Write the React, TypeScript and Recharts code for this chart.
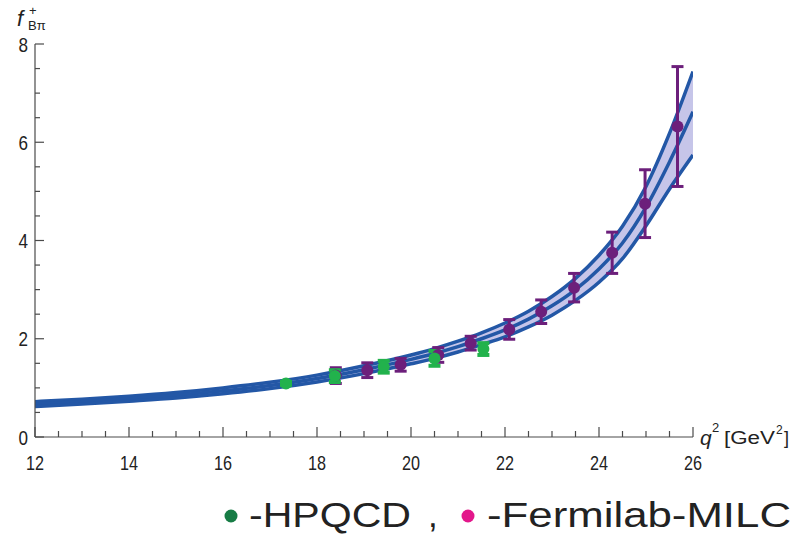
import React from 'react';
import { ComposedChart, Line, Area, Scatter, XAxis, YAxis, ErrorBar } from 'recharts';

// fit band
const q2Grid = [12, 13, 14, 15, 16, 17, 18, 19, 20, 20.5, 21, 21.5, 22, 22.5, 23, 23.5, 24, 24.5, 25, 25.5, 26];
const central = [0.67, 0.72, 0.78, 0.85, 0.94, 1.05, 1.19, 1.37, 1.58, 1.7, 1.84, 2.0, 2.18, 2.4, 2.67, 3.0, 3.42, 3.95, 4.68, 5.6, 6.62];
const upper = [0.72, 0.77, 0.83, 0.905, 1.0, 1.115, 1.26, 1.45, 1.67, 1.8, 1.95, 2.12, 2.32, 2.56, 2.86, 3.23, 3.7, 4.29, 5.1, 6.18, 7.44];
const lower = [0.62, 0.67, 0.73, 0.795, 0.88, 0.985, 1.12, 1.29, 1.49, 1.6, 1.73, 1.88, 2.04, 2.24, 2.48, 2.78, 3.15, 3.63, 4.3, 5.05, 5.74];

// lattice data
const hpqcdQ2 = [17.34, 18.38, 19.42, 20.5, 21.54];
const hpqcdF = [1.09, 1.24, 1.43, 1.6, 1.79];
const hpqcdErr = [0.03, 0.12, 0.12, 0.15, 0.12];

const fnalQ2 = [18.4, 19.07, 19.78, 20.58, 21.27, 22.09, 22.77, 23.47, 24.28, 24.98, 25.67];
const fnalF = [1.25, 1.36, 1.47, 1.67, 1.91, 2.19, 2.55, 3.04, 3.75, 4.75, 6.32];
const fnalErr = [0.16, 0.15, 0.13, 0.15, 0.14, 0.2, 0.24, 0.29, 0.42, 0.69, 1.22];

// ticks
const xTicks = [12, 12.5, 13, 13.5, 14, 14.5, 15, 15.5, 16, 16.5, 17, 17.5, 18, 18.5, 19, 19.5, 20, 20.5, 21, 21.5, 22, 22.5, 23, 23.5, 24, 24.5, 25, 25.5, 26];
const xLabels = [12, 14, 16, 18, 20, 22, 24, 26];
const yTicks = [0, 0.5, 1, 1.5, 2, 2.5, 3, 3.5, 4, 4.5, 5, 5.5, 6, 6.5, 7, 7.5, 8];
const yLabels = [0, 2, 4, 6, 8];

const legendNames = ['-HPQCD', '-Fermilab-MILC'];

const bandData = q2Grid.map((q, i) => ({ q2: q, c: central[i], hi: upper[i], lo: lower[i], range: [lower[i], upper[i]] }));
const hpqcdData = hpqcdQ2.map((q, i) => ({ q2: q, f: hpqcdF[i], err: hpqcdErr[i] }));
const fnalData = fnalQ2.map((q, i) => ({ q2: q, f: fnalF[i], err: fnalErr[i] }));

const BLUE = '#2357a6';
const BAND = '#c6c5e9';
const PURPLE = '#6c1f7b';
const GREEN = '#22b24c';
const AXIS = '#4a4a4a';
const FONT = '"Liberation Sans", Arial, sans-serif';

const XTick = (props: any) => {
  const { x, y, payload } = props;
  const v = payload.value;
  const major = xLabels.includes(v);
  return (
    <g>
      <line x1={x} x2={x} y1={y} y2={y - (major ? 10 : 6)} stroke={AXIS} strokeWidth={1.2} />
      {major && (
        <text x={x} y={y + 33} textAnchor="middle" fontSize={21} fontFamily={FONT} fill="#222"
          textLength={String(v).length * 9} lengthAdjust="spacingAndGlyphs">{v}</text>
      )}
    </g>
  );
};

const YTick = (props: any) => {
  const { x, y, payload } = props;
  const v = payload.value;
  const major = yLabels.includes(v);
  return (
    <g>
      <line x1={x} x2={x + (major ? 9 : 5)} y1={y} y2={y} stroke={AXIS} strokeWidth={1.2} />
      {major && (
        <text x={x - 7} y={y + 7.5} textAnchor="end" fontSize={21} fontFamily={FONT} fill="#222"
          textLength={9.5} lengthAdjust="spacingAndGlyphs">{v}</text>
      )}
    </g>
  );
};

const Dot = (color: string) => (props: any) => {
  const { cx, cy } = props;
  if (cx == null || cy == null) return null;
  return <circle cx={cx} cy={cy} r={6} fill={color} />;
};

export default function App() {
  return (
    <div style={{ position: 'absolute', left: 0, top: 0, width: 802, height: 535, background: '#fff' }}>
      <ComposedChart width={802} height={535} data={bandData} margin={{ top: 44, right: 109, bottom: 97, left: 34 }}>
        <XAxis dataKey="q2" type="number" domain={[12, 26]} ticks={xTicks} interval={0} height={1}
          tickSize={0} tickMargin={0} tickLine={false} tick={<XTick />} axisLine={{ stroke: AXIS, strokeWidth: 1.2 }} allowDataOverflow />
        <YAxis type="number" domain={[0, 8]} ticks={yTicks} interval={0} width={1}
          tickSize={0} tickMargin={0} tickLine={false} tick={<YTick />} axisLine={{ stroke: AXIS, strokeWidth: 1.2 }} allowDataOverflow />
        <Area dataKey="range" type="monotone" fill={BAND} fillOpacity={1} stroke="none" isAnimationActive={false} />
        <Line dataKey="hi" type="monotone" stroke={BLUE} strokeWidth={3.5} dot={false} isAnimationActive={false} />
        <Line dataKey="c" type="monotone" stroke={BLUE} strokeWidth={3.5} dot={false} isAnimationActive={false} />
        <Line dataKey="lo" type="monotone" stroke={BLUE} strokeWidth={3.5} dot={false} isAnimationActive={false} />
        <Scatter data={fnalData} dataKey="f" shape={Dot(PURPLE)} isAnimationActive={false}>
          <ErrorBar dataKey="err" direction="y" width={6} strokeWidth={3} stroke={PURPLE} />
        </Scatter>
        <Scatter data={hpqcdData} dataKey="f" shape={Dot(GREEN)} isAnimationActive={false}>
          <ErrorBar dataKey="err" direction="y" width={6} strokeWidth={4} stroke={GREEN} />
        </Scatter>
      </ComposedChart>
      <svg width={802} height={535} style={{ position: 'absolute', left: 0, top: 0, pointerEvents: 'none' }}>
        <g fontFamily={FONT} fill="#222">
          <text x={17} y={26} fontSize={22} fontStyle="italic">f</text>
          <text x={29} y={15} fontSize={13}>+</text>
          <text x={28} y={30} fontSize={13}>Bπ</text>
          <text x={700} y={445} fontSize={21} fontStyle="italic">q</text>
          <text x={712} y={432} fontSize={13}>2</text>
          <text x={724} y={444} fontSize={18} textLength={51} lengthAdjust="spacingAndGlyphs">[GeV</text>
          <text x={776} y={434} fontSize={12}>2</text>
          <text x={784} y={444} fontSize={18}>]</text>
        </g>
        <g fontFamily={FONT} fill="#222" fontSize={35}>
          <circle cx={231} cy={516} r={6.5} fill="#177c45" />
          <text x={249} y={527} textLength={162} lengthAdjust="spacingAndGlyphs">{legendNames[0]}</text>
          <text x={428} y={527}>,</text>
          <circle cx={468} cy={516} r={6.5} fill="#e3178b" />
          <text x={487} y={527} textLength={304} lengthAdjust="spacingAndGlyphs">{legendNames[1]}</text>
        </g>
      </svg>
    </div>
  );
}
